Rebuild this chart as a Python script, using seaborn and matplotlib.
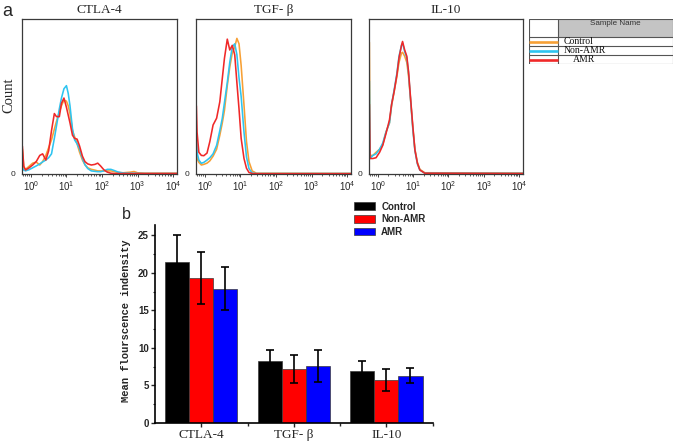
import numpy as np
import pandas as pd
import matplotlib
matplotlib.use('Agg')
import matplotlib.pyplot as plt
import seaborn as sns
from matplotlib.patches import Rectangle
from matplotlib.ticker import MultipleLocator

# ---------------- data ----------------
samples = ['Control', 'Non-AMR', 'AMR']
hist_colors = ['#f7a035', '#2ec4f0', '#f02828']
bar_colors = ['#000000', '#ff0000', '#0000ff']
markers = ['CTLA-4', 'TGF- β', 'IL-10']
decade_ticks = [0, 1, 2, 3, 4]
decade_labels = [r'$\mathregular{10^{0}}$', r'$\mathregular{10^{1}}$', r'$\mathregular{10^{2}}$',
                 r'$\mathregular{10^{3}}$', r'$\mathregular{10^{4}}$']

# CTLA-4 histogram (x in log10 decades, y as relative count)
ctla_grid = [-0.24, -0.2, -0.15, -0.05, 0.05, 0.15, 0.25, 0.33, 0.42, 0.5, 0.58, 0.66, 0.72, 0.8, 0.86,
             0.93, 1.0, 1.05, 1.1, 1.17, 1.23, 1.3, 1.37, 1.45, 1.52, 1.6, 1.7, 1.8, 1.88, 1.96, 2.05,
             2.15, 2.25, 2.35, 2.45, 2.6, 2.8, 2.9, 3.0, 3.2, 4.11]
ctla_control = [16, 4, 3, 5, 7, 7.7, 5.8, 8, 12, 17, 22, 29, 34, 40, 44,
                47.7, 47, 44, 39, 28, 24, 19.5, 14, 9, 6, 4, 3, 2.5, 2, 2, 2,
                2, 2, 1.5, 1, 0.8, 1.2, 1.6, 0.8, 0.5, 0.5]
ctla_nonamr = [4, 2.5, 2, 2.8, 4, 5.2, 6.5, 7.8, 9, 10.5, 13, 23, 31, 42, 49,
               55, 57, 52, 44, 29, 22, 19.5, 16, 10, 6, 3.5, 2, 1.7, 1.5, 1.5, 2,
               3, 3, 2.2, 1.3, 0.6, 0.5, 0.5, 0.4, 0.3, 0.3]
ctla_amr = [18, 5, 2.6, 4, 5.8, 8, 12, 13, 9, 15, 28, 39, 37, 37, 45.6,
            49, 43, 38, 33, 25, 23, 22.5, 18, 11.5, 8, 6.5, 5.8, 6.2, 7, 5.2, 2.8,
            1.2, 0.5, 0.3, 0.3, 0.3, 0.3, 0.3, 0.3, 0.3, 0.3]

# TGF-beta histogram
tgf_grid = [-0.24, -0.22, -0.17, -0.1, -0.03, 0.06, 0.14, 0.23, 0.33, 0.42, 0.49, 0.55, 0.63, 0.7,
            0.77, 0.84, 0.9, 0.96, 1.02, 1.1, 1.17, 1.24, 1.33, 1.45, 4.11]
tgf_control = [20, 10, 7.5, 5.8, 6.2, 7, 8.5, 11.5, 16, 25, 33, 41, 57, 69,
               78, 82, 87.5, 84, 70, 44.5, 21, 8, 2, 0.5, 0.4]
tgf_nonamr = [26, 14, 9, 6.9, 7.5, 9, 10.5, 13, 18.5, 28, 36, 46, 59, 72,
              82, 84, 77, 62, 50, 27, 11, 3.5, 0.6, 0.3, 0.3]
tgf_amr = [44, 27, 14, 12, 11.8, 13.5, 21, 31.6, 36, 46.6, 61.7, 74.6, 87, 80,
           83, 76.8, 59, 42, 23, 10, 3.7, 1, 0.3, 0.2, 0.2]

# IL-10 histogram
il10_grid = [-0.24, -0.22, -0.14, -0.05, 0.05, 0.14, 0.23, 0.33, 0.39, 0.46, 0.54, 0.6, 0.67, 0.7,
             0.76, 0.82, 0.87, 0.93, 0.99, 1.05, 1.12, 1.19, 1.33, 4.11]
il10_control = [85, 12, 12, 14, 16, 19, 27, 33, 44, 53, 63, 72, 78, 78.5,
                76, 72, 63, 47, 30, 16, 7.5, 3, 0.8, 0.6]
il10_nonamr = [60, 10, 12, 13, 16, 20, 27, 33, 45, 54, 65, 76, 83, 84.5,
               79, 75, 65, 47, 29, 15, 6.5, 2.5, 0.5, 0.4]
il10_amr = [45, 10, 10, 10.5, 14, 18.5, 26, 35, 45, 53, 64, 75, 83, 85.5,
            80, 76, 66, 48, 31, 15.5, 7, 2.6, 0.5, 0.3]

# Panel b: mean fluorescence intensity
mfi_control = [21.4, 8.3, 6.9]
mfi_nonamr = [19.3, 7.2, 5.7]
mfi_amr = [17.9, 7.55, 6.3]
err_control = [3.6, 1.4, 1.3]
err_nonamr = [3.45, 1.85, 1.5]
err_amr = [2.9, 2.1, 0.95]

# ---------------- style ----------------
sns.set_style('white')
plt.rcParams['font.family'] = ['Liberation Serif', 'DejaVu Serif']
plt.rcParams['mathtext.fontset'] = 'custom'

W, H = 675, 443
fig = plt.figure(figsize=(W / 100, H / 100), dpi=100)


def fig_rect(left, top, right, bottom):
    return [left / W, 1 - bottom / H, (right - left) / W, (bottom - top) / H]


hist_palette = dict(zip(samples, hist_colors))
minor_pos = [np.log10(k) + n for n in range(-1, 4) for k in range(2, 10)]
minor_pos = [m for m in minor_pos if -0.25 <= m <= 4.11]

panels = [
    (fig_rect(22, 19, 177, 174), ctla_grid, [ctla_control, ctla_nonamr, ctla_amr], markers[0]),
    (fig_rect(196, 19, 351, 174), tgf_grid, [tgf_control, tgf_nonamr, tgf_amr], markers[1]),
    (fig_rect(369, 19, 523, 174), il10_grid, [il10_control, il10_nonamr, il10_amr], markers[2]),
]

for i, (rect, grid, curves, title) in enumerate(panels):
    ax = fig.add_axes(rect)
    rows = []
    for s, vals in zip(samples, curves):
        for d, c in zip(grid, vals):
            rows.append((d, c, s))
    df = pd.DataFrame(rows, columns=['decade', 'count', 'sample'])
    sns.lineplot(data=df, x='decade', y='count', hue='sample', hue_order=samples,
                 palette=hist_palette, estimator=None, sort=False, legend=False,
                 linewidth=1.15, ax=ax)
    ax.set_xlim(-0.25, 4.11)
    ax.set_ylim(0, 100)
    ax.set_xticks(decade_ticks)
    ax.set_xticklabels(decade_labels, fontsize=7, family='Liberation Sans')
    ax.set_xticks(minor_pos, minor=True)
    ax.tick_params(axis='x', which='major', direction='out', length=2.2, width=0.7,
                   color='#444444', pad=1.5, bottom=True)
    ax.tick_params(axis='x', which='minor', direction='out', length=1.6, width=0.6,
                   color='#444444', bottom=True)
    ax.set_yticks([0])
    ax.set_yticklabels(['0'], fontsize=6, family='Liberation Sans')
    ax.tick_params(axis='y', length=0, pad=5)
    for sp in ax.spines.values():
        sp.set_visible(True)
        sp.set_color('#3a3a3a')
        sp.set_linewidth(0.9)
    ax.set_xlabel('')
    ax.set_title(title, fontsize=9.5, pad=4.5)
    if i == 0:
        ax.set_ylabel('Count', fontsize=10.5)
        ax.yaxis.set_label_coords(-0.045, 0.51)
    else:
        ax.set_ylabel('')

# legend table for panel a
axt = fig.add_axes(fig_rect(529, 19, 673.3, 64.3))
axt.set_xlim(0, 144.3)
axt.set_ylim(45.3, 0)
axt.axis('off')
axt.add_patch(Rectangle((29.3, 0), 115, 17.7, facecolor='#c4c4c4', edgecolor='none'))
axt.add_patch(Rectangle((0, 0), 144.3, 45.3, facecolor='none', edgecolor='#555555', lw=0.8))
for yy in [17.7, 27, 36]:
    axt.plot([0, 144.3], [yy, yy], color='#555555', lw=0.8)
axt.plot([29.3, 29.3], [0, 45.3], color='#555555', lw=0.8)
axt.text(86.8, 4.6, 'Sample Name', ha='center', va='center', fontsize=5.8,
         family='Liberation Sans', color='#333333')
row_tops = [17.7, 27, 36]
row_bottoms = [27, 36, 45.3]
text_x = [34.7, 34.7, 43.7]
for s, c, t, b, tx in zip(samples, hist_colors, row_tops, row_bottoms, text_x):
    axt.plot([0, 29.3], [(t + b) / 2 + 0.8] * 2, color=c, lw=1.9, solid_capstyle='butt')
    axt.text(tx, b - 0.3, s, ha='left', va='bottom', fontsize=7, color='#111111')

# ---------------- panel b ----------------
axb = fig.add_axes(fig_rect(155, 225, 432.7, 422.7))
df_b = pd.DataFrame({
    'marker': markers * 3,
    'group': [samples[0]] * 3 + [samples[1]] * 3 + [samples[2]] * 3,
    'mfi': mfi_control + mfi_nonamr + mfi_amr,
})
sns.barplot(data=df_b, x='marker', y='mfi', hue='group', order=markers, hue_order=samples,
            palette=dict(zip(samples, bar_colors)), saturation=1, width=0.78, errorbar=None,
            edgecolor='#3a3a3a', linewidth=0.5, legend=False, ax=axb)
bar_containers = list(axb.containers)
for cont, errs in zip(bar_containers, [err_control, err_nonamr, err_amr]):
    xs = [p.get_x() + p.get_width() / 2 for p in cont]
    hs = [p.get_height() for p in cont]
    axb.errorbar(xs, hs, yerr=errs, fmt='none', ecolor='black', elinewidth=1.2,
                 capsize=2.6, capthick=1.2, zorder=5)

axb.set_xlim(-0.5, 2.5)
axb.set_ylim(0, 26.4)
sns.despine(ax=axb)
for side in ['left', 'bottom']:
    axb.spines[side].set_color('black')
    axb.spines[side].set_linewidth(1.2)
axb.set_yticks([0, 5, 10, 15, 20, 25])
axb.yaxis.set_minor_locator(MultipleLocator(2.5))
axb.tick_params(axis='y', which='major', direction='out', length=3, width=1, pad=1.5,
                labelsize=7, left=True)
axb.tick_params(axis='y', which='minor', direction='out', length=1.6, width=0.8, left=True)
for tl in axb.get_yticklabels():
    tl.set_fontfamily('Liberation Sans')
    tl.set_fontweight('bold')
axb.set_xticks([0, 1, 2])
axb.set_xticklabels(markers, fontsize=9.5)
axb.set_xticks([0.5, 1.5, 2.5], minor=True)
axb.tick_params(axis='x', which='major', direction='out', length=3, width=1, pad=1.5, bottom=True)
axb.tick_params(axis='x', which='minor', direction='out', length=2, width=1, bottom=True)
axb.set_xlabel('')
axb.set_ylabel('Mean flourscence indensity', fontsize=7.6, family='Liberation Mono',
               fontweight='bold')
axb.yaxis.set_label_coords(-0.086, 0.517)

handles = [cont.patches[0] for cont in bar_containers]
fig.legend(handles, samples, loc='upper left', bbox_to_anchor=(354 / W, 1 - 201.5 / H),
           frameon=False, handlelength=2.2, handleheight=0.85, handletextpad=0.6,
           labelspacing=0.28, borderpad=0, borderaxespad=0,
           prop={'family': 'Liberation Sans', 'weight': 'bold', 'size': 7})

fig.text(2 / W, 1 - 15.5 / H, 'a', fontsize=13, family='Liberation Sans', ha='left', va='baseline')
fig.text(122 / W, 1 - 219 / H, 'b', fontsize=11.5, family='Liberation Sans', ha='left', va='baseline')

fig.savefig('out.png', dpi=100)
